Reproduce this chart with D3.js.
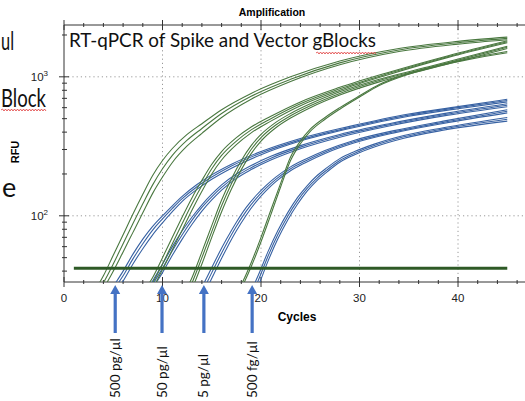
<!DOCTYPE html>
<html><head><meta charset="utf-8">
<script src="https://cdn.jsdelivr.net/npm/d3@7"></script>
<style>body{margin:0;background:#fff;}svg{display:block;}</style>
</head><body>
<svg id="chart" width="525" height="401"></svg>
<script>
// ---- data ----
const chartTitle = "Amplification";
const boxTitle = "RT-qPCR of Spike and Vector gBlocks";
const xLabel = "Cycles";
const yLabel = "RFU";
const xTickLabels = [0, 10, 20, 30, 40];
const yTickMajor = [100, 1000];
const yTickMinor = [40,50,60,70,80,90,200,300,400,500,600,700,800,900,2000];
const thresholdRFU = 42;
const thresholdCycles = [1, 45];
const arrowCycles = [5.2, 9.95, 14.2, 19.1];
const arrowLabels = ["500 pg/µl", "50 pg/µl", "5 pg/µl", "500 fg/µl"];

// Spike (green) curves
const g1Cycles = [3,4,5,6,7,8,9,10,11,12.5,14,16,19,23,28,34,40,45];
const g1a = [28,37,52,73,103,143,195,250,305,385,460,580,760,1000,1300,1600,1800,1930];
const g1b = [26,33,45,63,88,122,167,218,272,350,425,545,725,960,1260,1560,1760,1890];
const g1c = [24,30,40,55,76,105,145,190,242,318,392,510,690,925,1220,1520,1720,1850];
const g2Cycles = [8,9,10,11,12,13,14,15,16,17.5,19,21,24,28,33,39,45];
const g2a = [28,36,50,70,98,135,180,235,290,365,435,520,660,840,1080,1420,1820];
const g2b = [26,33,45,63,88,122,165,218,272,345,415,500,640,820,1060,1400,1790];
const g2c = [24,30,41,57,79,110,150,200,252,325,395,480,620,800,1040,1380,1760];
const g3Cycles = [12,13,14,15,16,17,18,19,20,21.5,23,25,28,32,37,45];
const g3a = [26,36,55,85,130,185,250,320,385,470,545,640,780,960,1180,1660];
const g3b = [24,33,50,77,118,170,232,300,365,450,525,620,760,940,1160,1630];
const g3c = [22,30,45,70,107,156,215,280,345,430,505,600,740,920,1140,1600];
const g4Cycles = [17,18,19,20,21,22,23,24,25,26.5,28,30,32,35,38,41,45];
const g4a = [24,32,46,70,110,172,265,345,420,510,600,730,880,1060,1210,1350,1520];
const g4b = [22,30,43,65,102,162,250,330,405,495,585,715,865,1045,1195,1330,1490];

// Vector (blue) curves
const b1Cycles = [4,5,6,7,8,9,10,11,12,13.5,15,17,20,24,29,35,40,45];
const b1a = [24,31,40,53,68,84,100,118,138,168,197,235,290,360,440,540,610,690];
const b1b = [22,29,37,49,63,79,95,113,133,162,190,228,283,352,432,530,600,675];
const b1c = [20,27,34,45,58,73,89,107,127,155,183,220,275,345,425,520,590,660];
const b2Cycles = [8,9,10,11,12,13,14,15,16,17.5,19,21,24,28,33,39,45];
const b2a = [26,34,45,60,78,98,120,143,167,200,230,268,320,385,460,550,640];
const b2b = [24,32,42,56,73,93,115,137,160,193,222,260,312,377,452,540,625];
const b2c = [22,30,39,52,68,87,108,130,153,186,215,252,304,368,443,530,610];
const b3Cycles = [13.5,14.5,15.5,16.5,17.5,18.5,19.5,20.5,21.5,23,24.5,26.5,29.5,33.5,38.5,45];
const b3a = [26,36,50,68,90,115,140,165,190,225,255,295,350,410,480,580];
const b3b = [24,33,46,63,84,108,133,158,183,218,248,288,342,402,470,565];
const b3c = [22,30,42,58,78,101,126,151,176,211,241,281,335,395,462,550];
const b4Cycles = [18.7,19.7,20.7,21.7,22.7,23.7,24.7,25.7,26.7,28,29.5,31.5,34.5,38.5,45];
const b4a = [26,37,55,78,105,135,165,195,222,258,290,328,378,430,510];
const b4b = [24,34,51,73,99,128,158,187,214,250,282,320,370,422,495];
const b4c = [22,31,47,68,93,121,151,180,207,243,275,313,362,413,480];

(function () {
const greenSeries = [
  [g1Cycles,g1a],[g1Cycles,g1b],[g1Cycles,g1c],
  [g2Cycles,g2a],[g2Cycles,g2b],[g2Cycles,g2c],
  [g3Cycles,g3a],[g3Cycles,g3b],[g3Cycles,g3c],
  [g4Cycles,g4a],[g4Cycles,g4b]
].map(([c,v]) => c.map((xx,i)=>({c:xx, v:v[i]})));
const blueSeries = [
  [b1Cycles,b1a],[b1Cycles,b1b],[b1Cycles,b1c],
  [b2Cycles,b2a],[b2Cycles,b2b],[b2Cycles,b2c],
  [b3Cycles,b3a],[b3Cycles,b3b],[b3Cycles,b3c],
  [b4Cycles,b4a],[b4Cycles,b4b],[b4Cycles,b4c]
].map(([c,v]) => c.map((xx,i)=>({c:xx, v:v[i]})));

const svg = d3.select("#chart");
const leftX = 64, topY = 25, bottomY = 282;
const x = d3.scaleLinear().domain([0, 46.8]).range([leftX, 525]);
const y = d3.scaleLog().domain([33.4, 2360]).range([bottomY, topY]);

const axisColor = "#333";
const gridColor = "#999";
const greenColor = "#4a7840";
const blueColor = "#3862a3";

const grid = svg.append("g");
grid.selectAll("line.gx").data(xTickLabels.filter(d=>d>0)).join("line")
  .attr("x1", d=>x(d)).attr("x2", d=>x(d)).attr("y1", topY).attr("y2", bottomY)
  .attr("stroke", gridColor).attr("stroke-width", 1).attr("stroke-dasharray", "1.2,3");
grid.selectAll("line.gy").data(yTickMajor).join("line")
  .attr("x1", leftX).attr("x2", 525).attr("y1", d=>y(d)).attr("y2", d=>y(d))
  .attr("stroke", gridColor).attr("stroke-width", 1).attr("stroke-dasharray", "1.2,3");

svg.append("line").attr("x1", leftX).attr("x2", 525).attr("y1", topY).attr("y2", topY).attr("stroke", axisColor);
svg.append("line").attr("x1", leftX).attr("x2", 525).attr("y1", bottomY).attr("y2", bottomY).attr("stroke", axisColor);
svg.append("line").attr("x1", leftX).attr("x2", leftX).attr("y1", topY).attr("y2", bottomY).attr("stroke", axisColor);

const xMinor = d3.range(0, 48, 2);
[bottomY, topY].forEach(yy => {
  svg.append("g").selectAll("line").data(xMinor).join("line")
    .attr("x1", d=>x(d)).attr("x2", d=>x(d))
    .attr("y1", d=> yy - (d%10===0?5:2)).attr("y2", d=> yy + (d%10===0?5:2))
    .attr("stroke", axisColor);
});
svg.append("g").selectAll("line").data(yTickMinor).join("line")
  .attr("x1", leftX-2).attr("x2", leftX+3).attr("y1", d=>y(d)).attr("y2", d=>y(d)).attr("stroke", axisColor);
svg.append("g").selectAll("line").data(yTickMajor).join("line")
  .attr("x1", leftX-5).attr("x2", leftX+5).attr("y1", d=>y(d)).attr("y2", d=>y(d)).attr("stroke", axisColor);

svg.append("g").selectAll("text").data(xTickLabels).join("text")
  .attr("x", d=>x(d)).attr("y", bottomY+20).attr("text-anchor","middle")
  .attr("font-family","Liberation Sans, Arial, sans-serif").attr("font-size", 11.5).attr("fill","#222")
  .text(d=>d);
const yl = svg.append("g").selectAll("text").data(yTickMajor).join("text")
  .attr("x", leftX-16).attr("y", d=>y(d)+4).attr("text-anchor","end")
  .attr("font-family","Liberation Sans, Arial, sans-serif").attr("font-size", 11.5).attr("fill","#222");
yl.append("tspan").text("10");
yl.append("tspan").attr("dy", -5).attr("font-size", 8).text(d=>Math.round(Math.log10(d)));

svg.append("text").attr("x", 272).attr("y", 16).attr("text-anchor","middle")
  .attr("font-family","Liberation Sans, Arial, sans-serif").attr("font-weight","bold").attr("font-size",10.5).text(chartTitle);
svg.append("text").attr("x", 297).attr("y", 321).attr("text-anchor","middle")
  .attr("font-family","Liberation Sans, Arial, sans-serif").attr("font-weight","bold").attr("font-size",12).text(xLabel);
svg.append("text").attr("transform","translate(19,152) rotate(-90)").attr("text-anchor","middle")
  .attr("font-family","Liberation Sans, Arial, sans-serif").attr("font-weight","bold").attr("font-size",11).text(yLabel);

const clip = svg.append("clipPath").attr("id","plotclip");
clip.append("rect").attr("x", leftX+0.5).attr("y", topY).attr("width", 525-leftX).attr("height", bottomY-topY);
const line = d3.line().x(d=>x(d.c)).y(d=>y(d.v)).curve(d3.curveMonotoneX);
const plot = svg.append("g").attr("clip-path","url(#plotclip)");
plot.selectAll("path.b").data(blueSeries).join("path")
  .attr("d", line).attr("fill","none").attr("stroke", blueColor).attr("stroke-width", 1.1);
plot.selectAll("path.g").data(greenSeries).join("path")
  .attr("d", line).attr("fill","none").attr("stroke", greenColor).attr("stroke-width", 1.1);
plot.append("line").attr("x1", x(thresholdCycles[0])).attr("x2", x(thresholdCycles[1]))
  .attr("y1", y(thresholdRFU)).attr("y2", y(thresholdRFU))
  .attr("stroke", "#2e5a26").attr("stroke-width", 3);

function squiggle(x0, x1, yy) {
  let p = `M${x0},${yy}`;
  let up = true;
  for (let xx = x0 + 1.5; xx <= x1; xx += 1.5) { p += ` L${xx},${yy + (up ? -1 : 1)}`; up = !up; }
  return p;
}
svg.append("text").attr("x", 69).attr("y", 47).attr("font-family","Lato, 'Open Sans', sans-serif")
  .attr("font-size", 20).attr("textLength", 307).attr("lengthAdjust","spacingAndGlyphs").attr("fill","#111").text(boxTitle);
svg.append("path").attr("d", squiggle(316, 377, 53)).attr("fill","none").attr("stroke","#e03a3a").attr("stroke-width",0.8);

const slideFont = "Lato, 'Open Sans', sans-serif";
svg.append("text").attr("x", 1).attr("y", 50).attr("font-family",slideFont).attr("font-size",25)
  .attr("textLength", 13).attr("lengthAdjust","spacingAndGlyphs").attr("fill","#111").text("ul");
svg.append("text").attr("x", 1).attr("y", 107).attr("font-family",slideFont).attr("font-size",25)
  .attr("textLength", 45).attr("lengthAdjust","spacingAndGlyphs").attr("fill","#111").text("Block");
svg.append("path").attr("d", squiggle(1, 46, 110)).attr("fill","none").attr("stroke","#e03a3a").attr("stroke-width",0.8);
svg.append("text").attr("x", 2).attr("y", 197).attr("font-family",slideFont).attr("font-size",27).attr("fill","#111").text("e");

const arrowColor = "#4472c4";
const arrows = svg.append("g").selectAll("g").data(arrowCycles).join("g")
  .attr("transform", d=>`translate(${x(d)},0)`);
arrows.append("path").attr("d", "M0,285 L5,294 L1.6,294 L1.6,333 L-1.6,333 L-1.6,294 L-5,294 Z").attr("fill", arrowColor);
svg.append("g").selectAll("text").data(arrowLabels).join("text")
  .attr("transform", (d,i)=>`translate(${x(arrowCycles[i])+4.5},398) rotate(-90)`)
  .attr("font-family", slideFont).attr("font-size", 13.5).attr("fill","#111").text(d=>d);
})();
</script>
</body></html>
